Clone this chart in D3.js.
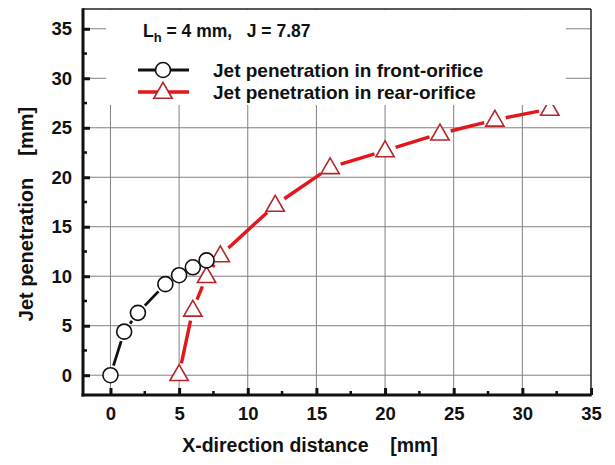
<!DOCTYPE html>
<html>
<head>
<meta charset="utf-8">
<script src="https://cdn.jsdelivr.net/npm/d3@7"></script>
<style>
  html, body { margin: 0; padding: 0; background: #fff; }
  svg { display: block; }
  text { font-family: "Liberation Sans", Arial, sans-serif; }
</style>
</head>
<body>
<svg id="chart" width="615" height="465"></svg>
<script>
// Jet penetration vs. X-direction distance (L_h = 4 mm, J = 7.87)
const frontX = [0, 1, 2, 4, 5, 6, 7];
const frontY = [0, 4.4, 6.3, 9.2, 10.1, 10.9, 11.6];
const rearX = [5, 6, 7, 8, 12, 16, 20, 24, 28, 32];
const rearY = [0.1, 6.6, 10.0, 12.1, 17.2, 21.0, 22.7, 24.4, 25.8, 26.9];
const xTicks = [0, 5, 10, 15, 20, 25, 30, 35];
const yTicks = [0, 5, 10, 15, 20, 25, 30, 35];
const seriesNames = ["Jet penetration in front-orifice", "Jet penetration in rear-orifice"];

const svg = d3.select("#chart");
const plotLeft = 83, plotRight = 591, plotTop = 9, plotBottom = 395;

const x = d3.scaleLinear().domain([-2, 35]).range([plotLeft, plotRight]);
const y = d3.scaleLinear().domain([-2, 37]).range([plotBottom, plotTop]);

const RED = "#e3171b", RED_EDGE = "#b4262c";

// grid lines
const grid = svg.append("g").attr("stroke", "#808080").attr("stroke-width", 1);
grid.selectAll("line.v").data(xTicks.filter(d => d < 35)).join("line").attr("class", "v")
  .attr("x1", d => x(d)).attr("x2", d => x(d))
  .attr("y1", y(-2)).attr("y2", y(37));
grid.selectAll("line.h").data(yTicks).join("line").attr("class", "h")
  .attr("x1", x(-2)).attr("x2", x(35))
  .attr("y1", d => y(d)).attr("y2", d => y(d));

// series drawn as segments that stop short of the markers
function gappedSegments(g, xs, ys, gap, color, width) {
  const pts = xs.map((v, i) => [x(v), y(ys[i])]);
  for (let i = 0; i < pts.length - 1; i++) {
    const [x0, y0] = pts[i], [x1, y1] = pts[i + 1];
    const len = Math.hypot(x1 - x0, y1 - y0);
    if (len <= 2 * gap) continue;
    const ux = (x1 - x0) / len, uy = (y1 - y0) / len;
    g.append("line")
      .attr("x1", x0 + ux * gap).attr("y1", y0 + uy * gap)
      .attr("x2", x1 - ux * gap).attr("y2", y1 - uy * gap)
      .attr("stroke", color).attr("stroke-width", width);
  }
}

const plot = svg.append("g");
gappedSegments(plot, frontX, frontY, 10, "#111", 2.8);
gappedSegments(plot, rearX, rearY, 11, RED, 3.4);

const tri = d3.symbol().type(d3.symbolTriangle).size(145);
plot.selectAll("path.rear").data(rearX).join("path").attr("class", "rear")
  .attr("transform", (d, i) => `translate(${x(d)},${y(rearY[i]) + 1})`)
  .attr("d", tri)
  .attr("fill", "#fff").attr("stroke", RED_EDGE).attr("stroke-width", 1.6);

plot.selectAll("circle.front").data(frontX).join("circle").attr("class", "front")
  .attr("cx", d => x(d)).attr("cy", (d, i) => y(frontY[i]))
  .attr("r", 7.5)
  .attr("fill", "#fff").attr("stroke", "#111").attr("stroke-width", 1.6);

// legend panel (white background hides grid behind it)
const lg = svg.append("g");
lg.append("rect").attr("x", 106).attr("y", plotTop + 1).attr("width", 460).attr("height", 95)
  .attr("fill", "#fff");

const title = lg.append("text").attr("x", 143).attr("y", 37)
  .attr("font-size", 17.5).attr("font-weight", "bold").attr("fill", "#111");
title.append("tspan").text("L");
title.append("tspan").attr("font-size", 13).attr("dy", 5).text("h");
title.append("tspan").attr("dy", -5).attr("xml:space", "preserve").text(" = 4 mm,   J = 7.87");

// legend rows
const rows = [70, 92];
lg.append("line").attr("x1", 138).attr("x2", 189).attr("y1", rows[0]).attr("y2", rows[0])
  .attr("stroke", "#111").attr("stroke-width", 2.8);
lg.append("circle").attr("cx", 163).attr("cy", rows[0]).attr("r", 7.5)
  .attr("fill", "#fff").attr("stroke", "#111").attr("stroke-width", 1.6);
lg.append("line").attr("x1", 138).attr("x2", 189).attr("y1", rows[1]).attr("y2", rows[1])
  .attr("stroke", RED).attr("stroke-width", 3.4);
lg.append("path").attr("transform", `translate(163,${rows[1] + 1})`).attr("d", tri)
  .attr("fill", "#fff").attr("stroke", RED_EDGE).attr("stroke-width", 1.6);
lg.selectAll("text.lab").data(seriesNames).join("text").attr("class", "lab")
  .attr("x", 213).attr("y", (d, i) => rows[i] + 7)
  .attr("font-size", 19).attr("font-weight", "bold").attr("fill", "#111")
  .text(d => d);

// axes: ticks point inward, minor ticks between majors
const minorX = d3.range(2.5, 35, 5);
const minorY = d3.range(2.5, 35, 5);

const xAxis = svg.append("g").attr("transform", `translate(0,${plotBottom})`)
  .call(d3.axisBottom(x).tickValues(xTicks).tickSizeInner(-7).tickSizeOuter(0).tickPadding(12));
xAxis.select(".domain").remove();
xAxis.selectAll(".tick line").attr("stroke", "#111").attr("stroke-width", 3);
xAxis.selectAll(".tick text").attr("font-size", 18.5).attr("font-weight", "bold")
  .attr("fill", "#111").attr("font-family", "Liberation Sans, Arial, sans-serif");
svg.append("g").selectAll("line").data(minorX).join("line")
  .attr("x1", d => x(d)).attr("x2", d => x(d)).attr("y1", plotBottom).attr("y2", plotBottom - 4)
  .attr("stroke", "#111").attr("stroke-width", 2.5);

const yAxis = svg.append("g").attr("transform", `translate(${plotLeft},0)`)
  .call(d3.axisLeft(y).tickValues(yTicks).tickSizeInner(-7).tickSizeOuter(0).tickPadding(11));
yAxis.select(".domain").remove();
yAxis.selectAll(".tick line").attr("stroke", "#111").attr("stroke-width", 3);
yAxis.selectAll(".tick text").attr("font-size", 18.5).attr("font-weight", "bold")
  .attr("fill", "#111").attr("font-family", "Liberation Sans, Arial, sans-serif");
svg.append("g").selectAll("line").data(minorY).join("line")
  .attr("y1", d => y(d)).attr("y2", d => y(d)).attr("x1", plotLeft).attr("x2", plotLeft + 4)
  .attr("stroke", "#111").attr("stroke-width", 2.5);

// frame
svg.append("line").attr("x1", plotLeft).attr("x2", plotRight).attr("y1", plotTop).attr("y2", plotTop)
  .attr("stroke", "#222").attr("stroke-width", 1.5);
svg.append("line").attr("x1", plotRight).attr("x2", plotRight).attr("y1", plotTop).attr("y2", plotBottom)
  .attr("stroke", "#222").attr("stroke-width", 1.5);
svg.append("line").attr("x1", plotLeft).attr("x2", plotLeft).attr("y1", plotTop - 0.75).attr("y2", plotBottom + 1.5)
  .attr("stroke", "#111").attr("stroke-width", 3);
svg.append("line").attr("x1", plotLeft - 1.5).attr("x2", plotRight + 0.75).attr("y1", plotBottom).attr("y2", plotBottom)
  .attr("stroke", "#111").attr("stroke-width", 3);

// axis titles
svg.append("text").attr("x", 310).attr("y", 452).attr("text-anchor", "middle")
  .attr("font-family", "Open Sans, sans-serif").attr("font-weight", 600)
  .attr("font-size", 19.5).attr("fill", "#111").attr("xml:space", "preserve")
  .text("X-direction distance    [mm]");
svg.append("text").attr("transform", "translate(33,214) rotate(-90)").attr("text-anchor", "middle")
  .attr("font-family", "Open Sans, sans-serif").attr("font-weight", 600)
  .attr("font-size", 20).attr("fill", "#111").attr("xml:space", "preserve")
  .text("Jet penetration    [mm]");
</script>
</body>
</html>
